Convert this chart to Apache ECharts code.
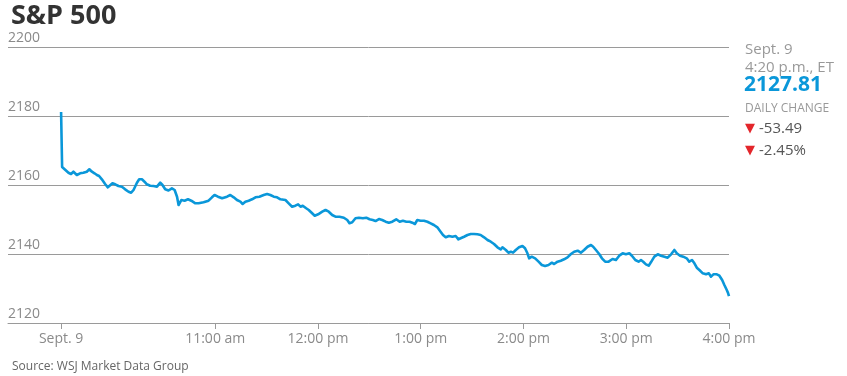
<!DOCTYPE html>
<html>
<head>
<meta charset="utf-8">
<script src="https://cdn.jsdelivr.net/npm/echarts@6/dist/echarts.min.js"></script>
<style>
html,body{margin:0;padding:0;background:#fff;}
#c{width:847px;height:376px;}
</style>
</head>
<body>
<div id="c"></div>
<script>
// minutes after 9:30 a.m.
var minutes = [0, 0.6, 1.3, 4.3, 5.8, 7.2, 9.2, 11.1, 13.0, 15.0, 16.5, 18.0, 19.5, 20.9, 22.2, 23.8, 25.7, 27.3, 28.2, 30.0, 31.6, 33.5, 35.5, 37.4, 39.4, 40.9, 42.3, 44.3, 45.6, 47.2, 48.7, 50.1, 52.0, 54.0, 56.0, 57.9, 59.2, 60.8, 62.7, 64.7, 66.3, 67.7, 68.6, 70.2, 72.1, 74.1, 76.0, 78.4, 80.3, 83.2, 86.1, 88.1, 89.6, 91.6, 94.0, 96.9, 98.8, 100.8, 102.7, 104.7, 106.0, 107.6, 109.5, 111.5, 113.5, 115.8, 118.3, 120.3, 122.2, 124.2, 126.1, 128.1, 129.1, 131.0, 132.9, 134.9, 136.8, 138.4, 139.8, 141.1, 143.1, 144.6, 146.6, 148.1, 150.1, 152.5, 154.4, 156.3, 158.3, 160.2, 162.6, 165.1, 167.1, 168.4, 170.0, 171.9, 173.9, 176.2, 178.2, 180.1, 182.0, 183.6, 185.6, 187.5, 189.5, 191.4, 193.4, 195.7, 197.7, 199.6, 201.6, 203.5, 205.1, 206.6, 208.0, 209.9, 211.9, 213.9, 215.8, 217.7, 219.7, 221.6, 223.0, 224.6, 226.5, 228.5, 230.4, 232.0, 233.3, 235.3, 237.3, 239.2, 241.1, 243.1, 245.0, 247.0, 249.0, 250.9, 252.8, 254.8, 256.7, 257.7, 259.7, 261.2, 262.6, 263.9, 265.5, 267.4, 269.4, 270.9, 272.3, 273.3, 274.8, 276.8, 278.8, 280.7, 282.6, 284.6, 286.6, 287.9, 289.9, 291.8, 293.7, 295.7, 297.7, 299.6, 301.6, 303.5, 305.4, 307.4, 309.4, 310.7, 312.3, 314.2, 315.8, 317.7, 319.7, 322.0, 324.0, 325.9, 327.9, 329.8, 331.8, 333.3, 335.3, 337.2, 338.6, 339.9, 341.5, 343.1, 344.4, 346.4, 348.4, 350.3, 352.3, 354.2, 356.2, 358.1, 359.5, 361.4, 363.3, 365.3, 366.8, 368.4, 369.8, 371.2, 372.7, 374.7, 376.6, 378.2, 379.5, 380.9, 382.9, 384.4, 386.0, 387.3, 388.7, 389.5, 390];
var prices = [2181.16, 2165.22, 2164.84, 2163.56, 2163.19, 2163.85, 2162.90, 2163.39, 2163.56, 2163.85, 2164.55, 2163.85, 2163.39, 2162.90, 2162.61, 2161.65, 2160.29, 2159.33, 2159.04, 2160.49, 2160.20, 2159.71, 2159.51, 2158.75, 2158.06, 2157.77, 2158.55, 2160.67, 2161.65, 2161.65, 2160.96, 2160.20, 2159.80, 2159.71, 2159.51, 2160.67, 2160.00, 2158.75, 2158.40, 2159.04, 2158.55, 2156.61, 2154.20, 2155.65, 2155.45, 2155.85, 2155.45, 2154.69, 2154.69, 2154.98, 2155.45, 2156.43, 2157.10, 2156.61, 2156.14, 2156.61, 2157.10, 2156.43, 2155.65, 2155.16, 2154.49, 2155.16, 2155.45, 2155.85, 2156.43, 2156.61, 2157.10, 2157.39, 2157.10, 2156.61, 2156.43, 2155.85, 2155.36, 2155.65, 2154.69, 2153.71, 2154.00, 2154.40, 2153.71, 2154.00, 2153.25, 2152.75, 2151.80, 2151.10, 2151.51, 2152.26, 2152.75, 2152.26, 2151.30, 2150.81, 2150.81, 2150.52, 2149.85, 2148.90, 2149.19, 2150.35, 2150.52, 2150.35, 2150.52, 2150.06, 2149.85, 2149.56, 2150.14, 2149.85, 2149.36, 2149.07, 2149.36, 2150.06, 2149.36, 2149.65, 2149.36, 2149.36, 2149.07, 2148.69, 2149.85, 2149.65, 2149.65, 2149.36, 2148.90, 2148.40, 2147.74, 2146.46, 2145.51, 2144.84, 2145.22, 2145.01, 2145.22, 2144.26, 2144.55, 2145.01, 2145.51, 2145.80, 2145.80, 2145.71, 2145.51, 2144.84, 2144.06, 2143.56, 2142.90, 2141.94, 2141.36, 2141.94, 2141.16, 2140.38, 2140.67, 2140.38, 2141.16, 2141.94, 2142.32, 2141.65, 2140.20, 2138.75, 2139.22, 2138.75, 2137.77, 2136.81, 2136.52, 2136.81, 2137.48, 2137.10, 2137.77, 2138.06, 2138.46, 2139.04, 2140.00, 2140.67, 2140.96, 2140.38, 2141.16, 2142.11, 2142.61, 2142.11, 2141.16, 2140.00, 2138.75, 2137.77, 2137.77, 2138.55, 2138.26, 2139.51, 2140.20, 2139.91, 2140.20, 2139.51, 2138.26, 2137.77, 2138.26, 2137.77, 2137.01, 2136.61, 2137.59, 2139.22, 2139.91, 2139.51, 2139.22, 2138.93, 2139.91, 2141.16, 2140.20, 2139.51, 2139.22, 2138.75, 2137.77, 2138.26, 2137.30, 2136.03, 2135.36, 2134.40, 2134.11, 2134.40, 2133.42, 2134.11, 2134.11, 2133.71, 2132.46, 2131.01, 2129.56, 2128.60, 2127.81];

var tickMinutes = [0, 90, 150, 210, 270, 330, 390];
var tickLabels = ['Sept. 9', '11:00 am', '12:00 pm', '1:00 pm', '2:00 pm', '3:00 pm', '4:00 pm'];
var yTicks = [2120, 2140, 2160, 2180, 2200];

var infoDate = 'Sept. 9';
var infoTime = '4:20 p.m., ET';
var infoLast = '2127.81';
var infoChange = '-53.49';
var infoPct = '-2.45%';

var n = Math.min(minutes.length, prices.length);
var seriesData = [];
for (var i = 0; i < n; i++) seriesData.push([minutes[i], prices[i]]);

var FONT = '"Open Sans", "Noto Sans", sans-serif';
var chart = echarts.init(document.getElementById('c'), null, {renderer: 'canvas'});
chart.setOption({
  animation: false,
  backgroundColor: '#fff',
  title: [{
    text: 'S&P 500', left: 6, top: -2,
    textStyle: {fontFamily: FONT, fontWeight: 'bold', fontSize: 27, color: '#333'}
  }, {
    text: 'Source: WSJ Market Data Group', left: 7, top: 356,
    textStyle: {fontFamily: FONT, fontWeight: 'normal', fontSize: 12, color: '#666'}
  }],
  grid: {left: 8, right: 118, top: 47, bottom: 53},
  xAxis: {
    type: 'value', min: -31, max: 390,
    axisLine: {show: true, lineStyle: {color: '#9a9a9a', width: 1}},
    axisTick: {show: true, customValues: tickMinutes, length: 6, lineStyle: {color: '#9a9a9a'}},
    axisLabel: {
      customValues: tickMinutes, margin: 9,
      fontFamily: FONT, fontSize: 14, color: '#8a8a8a',
      formatter: function (v) {
        var k = tickMinutes.indexOf(v);
        return k >= 0 ? tickLabels[k] : '';
      }
    },
    splitLine: {show: false}
  },
  yAxis: {
    type: 'value', min: yTicks[0], max: yTicks[yTicks.length - 1], interval: 20,
    axisLine: {show: false}, axisTick: {show: false},
    axisLabel: {
      inside: true, margin: 0, verticalAlign: 'bottom', padding: [0, 0, 2, 0],
      fontFamily: FONT, fontSize: 14, color: '#8a8a8a',
      formatter: function (v) { return String(v); }
    },
    splitLine: {show: true, lineStyle: {color: '#9a9a9a', width: 1}}
  },
  series: [{
    type: 'line', data: seriesData, showSymbol: false, symbol: 'none',
    lineStyle: {color: '#0a97d9', width: 2.6, join: 'round'},
    silent: true
  }],
  graphic: [
    {type: 'text', left: 745, top: 42, style: {text: infoDate, fontFamily: FONT, fontSize: 15, fill: '#999'}},
    {type: 'text', left: 745, top: 60, style: {text: infoTime, fontFamily: FONT, fontSize: 15, fill: '#999'}},
    {type: 'text', left: 744, top: 75, style: {text: infoLast, fontFamily: FONT, fontSize: 21, fontWeight: 'bold', fill: '#0a97d9'}},
    {type: 'text', left: 745, top: 103, style: {text: 'DAILY CHANGE', fontFamily: FONT, fontSize: 12, fill: '#999'}},
    {type: 'text', left: 745, top: 122, style: {text: '▼', fontFamily: '"DejaVu Sans", sans-serif', fontSize: 13, fill: '#e3262b'}},
    {type: 'text', left: 759, top: 121, style: {text: infoChange, fontFamily: FONT, fontSize: 15, fill: '#555'}},
    {type: 'text', left: 745, top: 144, style: {text: '▼', fontFamily: '"DejaVu Sans", sans-serif', fontSize: 13, fill: '#e3262b'}},
    {type: 'text', left: 759, top: 143, style: {text: infoPct, fontFamily: FONT, fontSize: 15, fill: '#555'}}
  ]
});
</script>
</body>
</html>
